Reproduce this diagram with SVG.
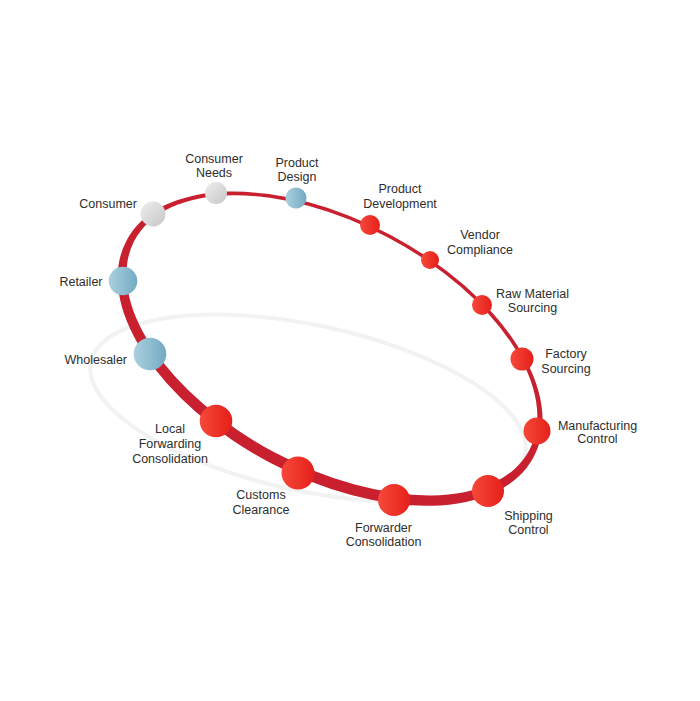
<svg xmlns="http://www.w3.org/2000/svg" width="700" height="701" viewBox="0 0 700 701">
  <defs>
    <linearGradient id="gRed" x1="0" y1="0" x2="1" y2="0">
      <stop offset="0" stop-color="#F6493A"/>
      <stop offset="1" stop-color="#E5201A"/>
    </linearGradient>
    <linearGradient id="gBlue" x1="0" y1="0" x2="1" y2="0">
      <stop offset="0" stop-color="#AAD0DF"/>
      <stop offset="1" stop-color="#74AAC2"/>
    </linearGradient>
    <linearGradient id="gGrey" x1="0" y1="0" x2="1" y2="1">
      <stop offset="0" stop-color="#EEEEEE"/>
      <stop offset="1" stop-color="#C6C6C6"/>
    </linearGradient>
  </defs>
  <style>
    text { font-family: "Liberation Sans", Arial, sans-serif; font-size: 12.5px; fill: #2E2E2E; }
    .m { text-anchor: middle; }
    .e { text-anchor: end; }
    .red { fill: url(#gRed); }
    .blue { fill: url(#gBlue); }
    .grey { fill: url(#gGrey); }
  </style>
  <rect width="700" height="701" fill="#FFFFFF"/>

  <g id="connectors">
    <ellipse cx="308" cy="408" rx="222" ry="83" transform="rotate(12 308 408)" fill="none" stroke="#F2F2F2" stroke-width="4"/>
    <path fill="#C8202E" fill-rule="evenodd" d="M533.62 456.91 A230.5 128.5 28 1 1 126.58 240.49 A230.5 128.5 28 1 1 533.62 456.91 Z M529.24 450.23 A223.5 121.5 28 1 1 134.56 240.37 A223.5 121.5 28 1 1 529.24 450.23 Z"/>
  </g>

  <g id="consumer"><circle class="grey" cx="153" cy="214" r="12.5"/><text class="e" x="137" y="208">Consumer</text></g>
  <g id="consumer-needs"><circle class="grey" cx="216" cy="193" r="11"/><text class="m" x="214" y="163">Consumer</text><text class="m" x="214" y="177">Needs</text></g>
  <g id="product-design"><circle class="blue" cx="296" cy="198" r="10.5"/><text class="m" x="297" y="167">Product</text><text class="m" x="297" y="181">Design</text></g>
  <g id="product-development"><circle class="red" cx="370" cy="225" r="10"/><text class="m" x="400" y="193">Product</text><text class="m" x="400" y="207.5">Development</text></g>
  <g id="vendor-compliance"><circle class="red" cx="430" cy="260" r="9"/><text class="m" x="480" y="238.5">Vendor</text><text class="m" x="480" y="253.5">Compliance</text></g>
  <g id="raw-material-sourcing"><circle class="red" cx="482" cy="305" r="10"/><text class="m" x="532.5" y="298">Raw Material</text><text class="m" x="532.5" y="312">Sourcing</text></g>
  <g id="factory-sourcing"><circle class="red" cx="522" cy="359" r="11.5"/><text class="m" x="566" y="358">Factory</text><text class="m" x="566" y="372.5">Sourcing</text></g>
  <g id="manufacturing-control"><circle class="red" cx="537" cy="431" r="13.5"/><text class="m" x="597.5" y="429.5">Manufacturing</text><text class="m" x="597.5" y="443">Control</text></g>
  <g id="shipping-control"><circle class="red" cx="488" cy="491" r="16"/><text class="m" x="528.5" y="519.5">Shipping</text><text class="m" x="528.5" y="534">Control</text></g>
  <g id="forwarder-consolidation"><circle class="red" cx="394" cy="500" r="16"/><text class="m" x="383.5" y="532">Forwarder</text><text class="m" x="383.5" y="546">Consolidation</text></g>
  <g id="customs-clearance"><circle class="red" cx="298" cy="473" r="16.5"/><text class="m" x="261" y="499">Customs</text><text class="m" x="261" y="513.5">Clearance</text></g>
  <g id="local-forwarding-consolidation"><circle class="red" cx="216" cy="421" r="16.3"/><text class="m" x="170" y="433">Local</text><text class="m" x="170" y="447.5">Forwarding</text><text class="m" x="170" y="462.5">Consolidation</text></g>
  <g id="wholesaler"><circle class="blue" cx="150" cy="354" r="16.3"/><text class="e" x="127" y="364">Wholesaler</text></g>
  <g id="retailer"><circle class="blue" cx="123" cy="281" r="14.3"/><text class="e" x="102.5" y="285.5">Retailer</text></g>
</svg>
